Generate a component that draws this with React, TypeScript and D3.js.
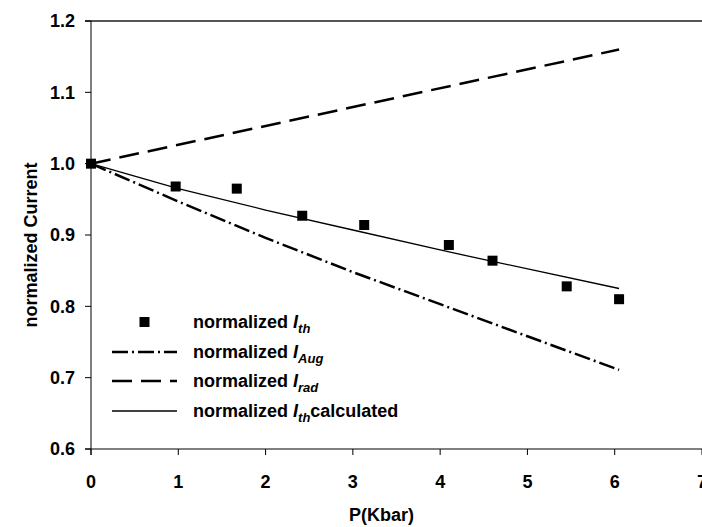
import React from "react";
import * as d3 from "d3";

const measuredP = [0, 0.97, 1.67, 2.42, 3.13, 4.1, 4.6, 5.45, 6.05];
const measuredIth = [1.0, 0.968, 0.965, 0.927, 0.914, 0.886, 0.864, 0.828, 0.81];

const calcP = [0, 1, 2, 3, 4, 4.6, 6.05];
const calcIth = [1.0, 0.965, 0.935, 0.907, 0.879, 0.863, 0.825];

const augP = [0, 1, 2, 3, 4, 5, 6.05];
const augI = [1.0, 0.947, 0.896, 0.848, 0.803, 0.758, 0.711];

const radP = [0, 6.05];
const radI = [1.0, 1.16];

const xTicks = [0, 1, 2, 3, 4, 5, 6, 7];
const yTicks = [0.6, 0.7, 0.8, 0.9, 1.0, 1.1, 1.2];

const W = 702;
const H = 527;

export default function App() {
  const x = d3.scaleLinear().domain([0, 7]).range([91, 702]);
  const y = d3.scaleLinear().domain([0.6, 1.2]).range([449, 21]);
  const line = d3
    .line<[number, number]>()
    .x((d) => x(d[0]))
    .y((d) => y(d[1]));
  const zip = (a: number[], b: number[]) => a.map((v, i) => [v, b[i]] as [number, number]);
  const font = "Liberation Sans, Arial, Helvetica, sans-serif";
  const legendRows = [322, 352, 381, 411];
  const lx0 = 112;
  const lx1 = 177;
  const tx = 193;
  const augDash = "16,4,2,4";
  const radDash = "20,9";
  const ms = 10;
  const sub = (main: string, s: string, extra?: string, ry?: number) => (
    <text x={tx} y={ry} dy="0.35em" fontFamily={font} fontSize={18} fontWeight="bold">
      {"normalized "}
      <tspan fontStyle="italic">{main}</tspan>
      <tspan fontStyle="italic" fontSize={13} dy="5">{s}</tspan>
      {extra ? <tspan dy="-5">{extra}</tspan> : null}
    </text>
  );
  return (
    <svg width={W} height={H} style={{ position: "absolute", left: 0, top: 0 }}>
      <rect x={0} y={0} width={W} height={H} fill="#fff" />
      {/* top border */}
      <line x1={85} x2={702} y1={21} y2={21} stroke="#555" strokeWidth={2} />
      {/* axes */}
      <line x1={91} x2={91} y1={21} y2={455} stroke="#000" strokeWidth={1} />
      <line x1={85} x2={702} y1={449} y2={449} stroke="#000" strokeWidth={1} />
      {yTicks.map((t) => (
        <g key={"y" + t}>
          <line x1={85} x2={91} y1={y(t)} y2={y(t)} stroke="#000" />
          <text x={75} y={y(t)} dy="0.35em" textAnchor="end" fontFamily={font} fontSize={18} fontWeight="bold">
            {t.toFixed(1)}
          </text>
        </g>
      ))}
      {xTicks.map((t) => (
        <g key={"x" + t}>
          <line x1={x(t)} x2={x(t)} y1={449} y2={455} stroke="#000" />
          <text x={x(t)} y={482} dy="0.35em" textAnchor="middle" fontFamily={font} fontSize={18} fontWeight="bold">
            {t}
          </text>
        </g>
      ))}
      <text x={x(3.5) - 15} y={515} dy="0.35em" textAnchor="middle" fontFamily={font} fontSize={18} fontWeight="bold">
        P(Kbar)
      </text>
      <text
        transform={`translate(31,${y(0.9) + 10}) rotate(-90)`}
        dy="0.35em"
        textAnchor="middle"
        fontFamily={font}
        fontSize={18}
        fontWeight="bold"
      >
        normalized Current
      </text>
      {/* series */}
      <path d={line(zip(radP, radI)) || ""} fill="none" stroke="#000" strokeWidth={2.5} strokeDasharray={radDash} />
      <path d={line(zip(augP, augI)) || ""} fill="none" stroke="#000" strokeWidth={2.5} strokeDasharray={augDash} />
      <path d={line(zip(calcP, calcIth)) || ""} fill="none" stroke="#000" strokeWidth={1.3} />
      {measuredP.map((p, i) => (
        <rect key={"m" + i} x={x(p) - ms / 2} y={y(measuredIth[i]) - ms / 2} width={ms} height={ms} fill="#000" />
      ))}
      {/* legend */}
      <rect x={(lx0 + lx1) / 2 - ms / 2} y={legendRows[0] - ms / 2} width={ms} height={ms} fill="#000" />
      {sub("I", "th", undefined, legendRows[0])}
      <line x1={lx0} x2={lx1} y1={legendRows[1]} y2={legendRows[1]} stroke="#000" strokeWidth={2.5} strokeDasharray={augDash} />
      {sub("I", "Aug", undefined, legendRows[1])}
      <line x1={lx0} x2={lx1} y1={legendRows[2]} y2={legendRows[2]} stroke="#000" strokeWidth={2.5} strokeDasharray={radDash} />
      {sub("I", "rad", undefined, legendRows[2])}
      <line x1={lx0} x2={lx1} y1={legendRows[3]} y2={legendRows[3]} stroke="#000" strokeWidth={1.3} />
      {sub("I", "th", "calculated", legendRows[3])}
    </svg>
  );
}
